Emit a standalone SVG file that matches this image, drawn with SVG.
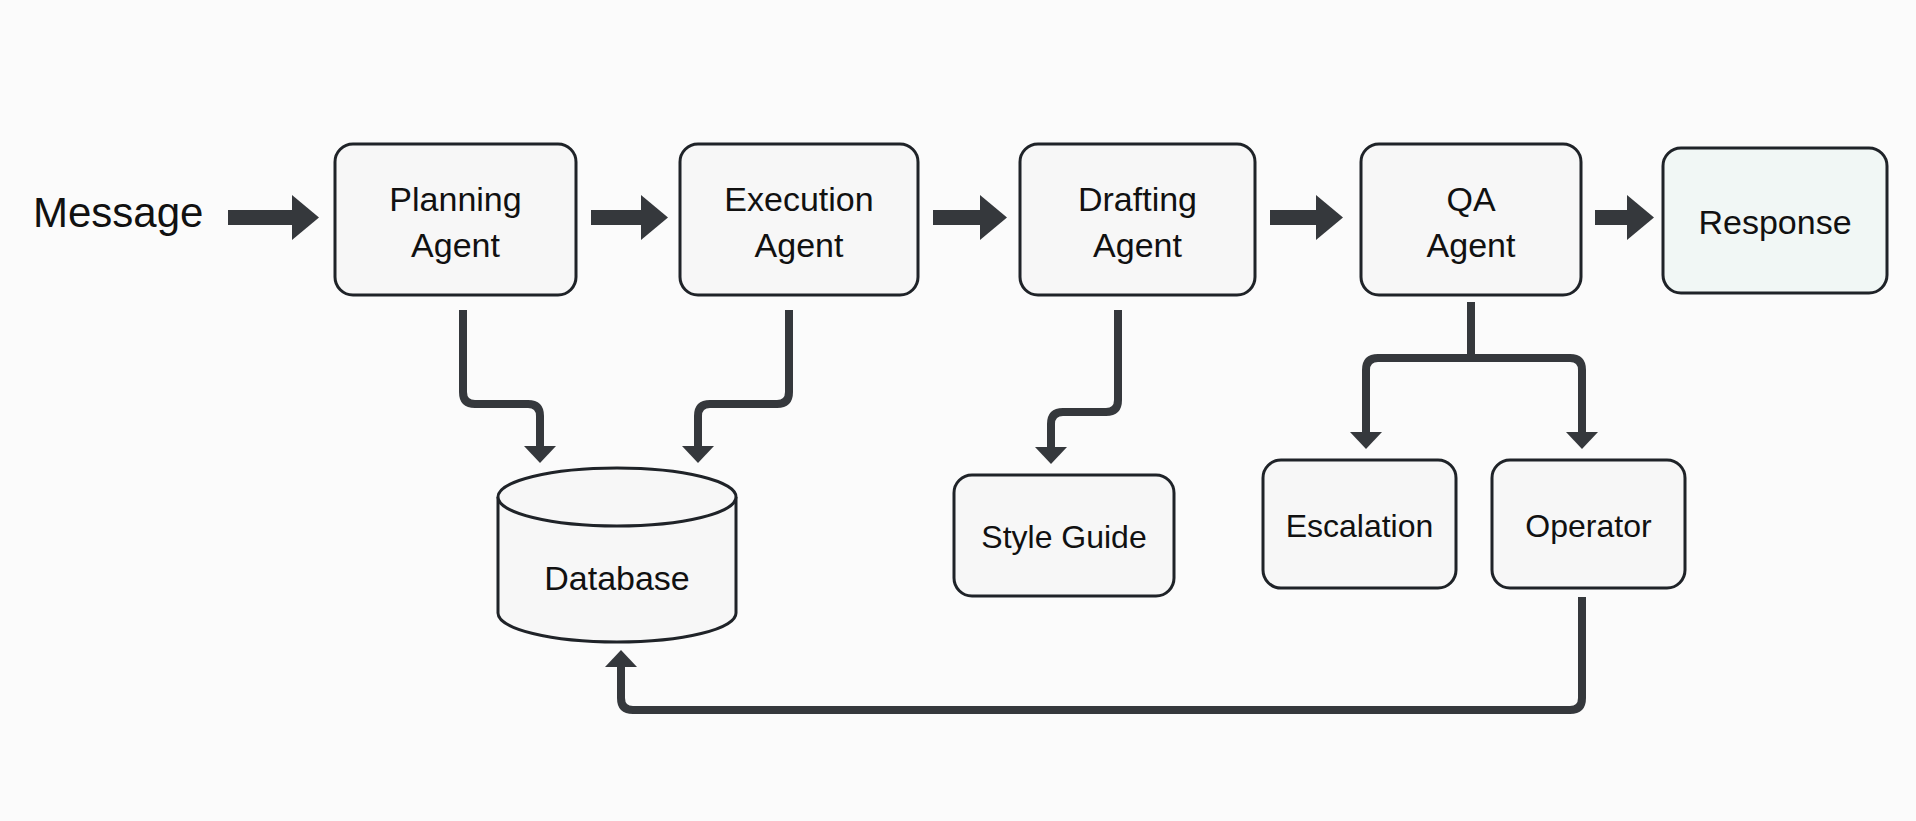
<svg xmlns="http://www.w3.org/2000/svg" width="1916" height="821" viewBox="0 0 1916 821">
<defs>
<style>
.box{fill:#f7f7f7;stroke:#1f2328;stroke-width:3}
.resp{fill:#f1f7f5;stroke:#1f2328;stroke-width:3}
.lbl{font-family:"Liberation Sans",Arial,sans-serif;font-size:34px;fill:#111;text-anchor:middle}
.conn{fill:none;stroke:#35383c;stroke-width:8;stroke-linejoin:round}
.big{fill:none;stroke:#35383c;stroke-width:15}
</style>
<marker id="ah" viewBox="0 0 17 32" markerWidth="17" markerHeight="32" refX="0" refY="16" orient="auto" markerUnits="userSpaceOnUse"><path d="M0,0 L17,16 L0,32 Z" fill="#35383c"/></marker>
<marker id="bh" viewBox="0 0 27 45" markerWidth="27" markerHeight="45" refX="0" refY="22.5" orient="auto" markerUnits="userSpaceOnUse"><path d="M0,0 L27,22.5 L0,45 Z" fill="#35383c"/></marker>
</defs>
<rect width="1916" height="821" fill="#fbfbfb"/>
<g id="message"><text x="33" y="227" font-family="Liberation Sans,Arial,sans-serif" font-size="42" fill="#111">Message</text></g>
<g id="planning"><rect class="box" x="335" y="144" width="241" height="151" rx="18"/><text class="lbl" x="455.5" y="211">Planning</text><text class="lbl" x="455.5" y="257">Agent</text></g>
<g id="execution"><rect class="box" x="680" y="144" width="238" height="151" rx="18"/><text class="lbl" x="799" y="211">Execution</text><text class="lbl" x="799" y="257">Agent</text></g>
<g id="drafting"><rect class="box" x="1020" y="144" width="235" height="151" rx="18"/><text class="lbl" x="1137.5" y="211">Drafting</text><text class="lbl" x="1137.5" y="257">Agent</text></g>
<g id="qa"><rect class="box" x="1361" y="144" width="220" height="151" rx="18"/><text class="lbl" x="1471" y="211">QA</text><text class="lbl" x="1471" y="257">Agent</text></g>
<g id="response"><rect class="resp" x="1663" y="148" width="224" height="145" rx="18"/><text class="lbl" x="1775" y="234">Response</text></g>
<g id="database"><path d="M498,497 V613 A119,29 0 0 0 736,613 V497" fill="#f7f7f7" stroke="#1f2328" stroke-width="3"/><ellipse cx="617" cy="497" rx="119" ry="29" fill="#f7f7f7" stroke="#1f2328" stroke-width="3"/><text class="lbl" x="617" y="590">Database</text></g>
<g id="styleguide"><rect class="box" x="954" y="475" width="220" height="121" rx="18"/><text class="lbl" x="1064" y="548" style="font-size:32px">Style Guide</text></g>
<g id="escalation"><rect class="box" x="1263" y="460" width="193" height="128" rx="18"/><text class="lbl" x="1359.5" y="537" style="font-size:32px">Escalation</text></g>
<g id="operator"><rect class="box" x="1492" y="460" width="193" height="128" rx="18"/><text class="lbl" x="1588.5" y="537" style="font-size:32px">Operator</text></g>
<g id="connectors">
<path class="big" d="M228,217.5 H292" marker-end="url(#bh)"/>
<path class="big" d="M591,217.5 H641" marker-end="url(#bh)"/>
<path class="big" d="M933,217.5 H980" marker-end="url(#bh)"/>
<path class="big" d="M1270,217.5 H1316" marker-end="url(#bh)"/>
<path class="big" d="M1595,217.5 H1627" marker-end="url(#bh)"/>
<path class="conn" d="M463,310 V392 Q463,404 475,404 H528 Q540,404 540,416 V446" marker-end="url(#ah)"/>
<path class="conn" d="M789,310 V392 Q789,404 777,404 H710 Q698,404 698,416 V446" marker-end="url(#ah)"/>
<path class="conn" d="M1118,310 V400 Q1118,412 1106,412 H1063 Q1051,412 1051,424 V447" marker-end="url(#ah)"/>
<path class="conn" d="M1471,302 V358"/>
<path class="conn" d="M1471,358 H1378 Q1366,358 1366,370 V432" marker-end="url(#ah)"/>
<path class="conn" d="M1471,358 H1570 Q1582,358 1582,370 V432" marker-end="url(#ah)"/>
<path class="conn" d="M1582,597 V698 Q1582,710 1570,710 H633 Q621,710 621,698 V667" marker-end="url(#ah)"/>
</g>
</svg>
